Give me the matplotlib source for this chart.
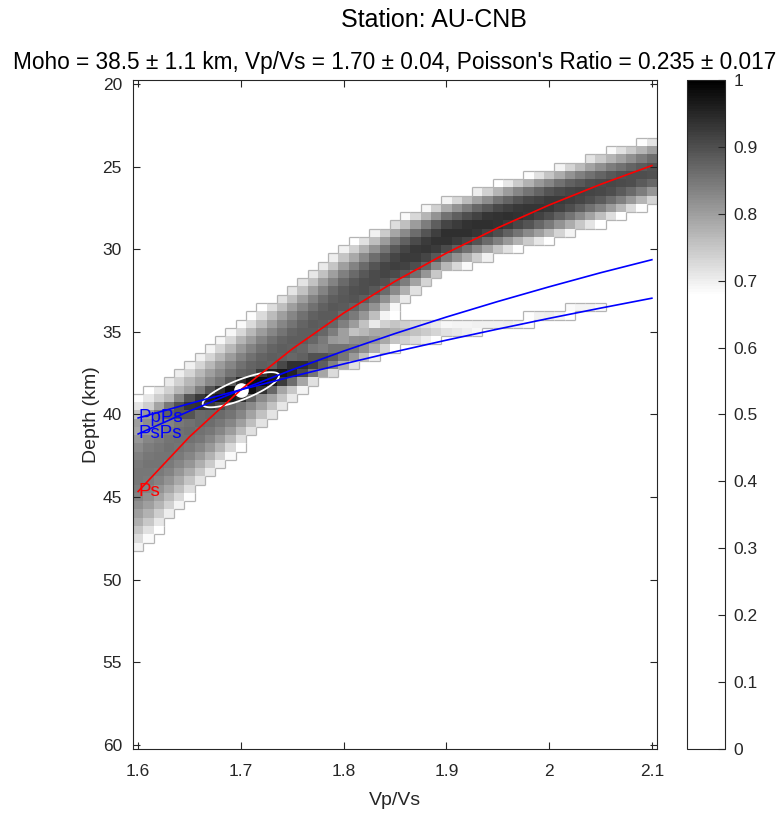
import numpy as np
import matplotlib
matplotlib.use("Agg")
import matplotlib.pyplot as plt
from matplotlib.colors import LinearSegmentedColormap
from matplotlib.collections import LineCollection

plt.rcParams['font.family'] = ['Liberation Sans', 'DejaVu Sans']

station = "AU-CNB"
moho, moho_err = 38.5, 1.1
vpvs, vpvs_err = 1.70, 0.04
poisson, poisson_err = 0.235, 0.017

# H-k search grid
k_grid = np.round(np.arange(1.60, 2.1001, 0.01), 2)
h_grid = np.arange(20.0, 60.01, 0.5)

# ridge description, every 0.05 in Vp/Vs
k_nodes = [1.60, 1.65, 1.70, 1.75, 1.80, 1.85, 1.90, 1.95, 2.00, 2.05, 2.10]
ps_center = [43.6, 40.9, 38.2, 35.7, 33.0, 30.9, 29.2, 28.2, 27.3, 26.3, 25.3]
ps_halfwidth = [4.7, 4.2, 3.8, 3.6, 3.2, 2.7, 2.3, 2.2, 2.2, 2.2, 2.0]
ps_peak = [0.85, 0.86, 0.88, 0.88, 0.89, 0.92, 0.94, 0.94, 0.93, 0.91, 0.90]
mult_center = [40.6, 39.5, 38.5, 37.3, 36.2, 35.0, 34.9, 34.6, 34.0, 33.3, 32.8]
mult_sigma = [1.8, 1.7, 1.5, 1.5, 1.8, 1.9, 1.4, 1.1, 1.1, 1.1, 1.0]
mult_peak = [0.80, 0.93, 1.00, 0.96, 0.86, 0.78, 0.72, 0.70, 0.70, 0.695, 0.62]

# predicted phase curves through the best solution
ps_curve = [44.66, 41.35, 38.50, 36.03, 33.86, 31.94, 30.23, 28.70, 27.32, 26.07, 24.93]
ppps_curve = [40.21, 39.34, 38.50, 37.70, 36.94, 36.20, 35.50, 34.83, 34.18, 33.56, 32.96]
psps_curve = [41.18, 39.79, 38.50, 37.29, 36.16, 35.10, 34.10, 33.16, 32.27, 31.42, 30.63]

# error ellipse half-axes (dVp/Vs, dH)
ell_major = (0.037, -0.905)
ell_minor = (0.0036, 0.56)

x_ticks = [1.6, 1.7, 1.8, 1.9, 2.0, 2.1]
x_ticklabels = ['1.6', '1.7', '1.8', '1.9', '2', '2.1']
y_ticks = [20, 25, 30, 35, 40, 45, 50, 55, 60]
cb_ticks = [0, 0.1, 0.2, 0.3, 0.4, 0.5, 0.6, 0.7, 0.8, 0.9, 1]
cb_ticklabels = ['0', '0.1', '0.2', '0.3', '0.4', '0.5', '0.6', '0.7', '0.8', '0.9', '1']

draw_level = 0.675

K, H = np.meshgrid(k_grid, h_grid)


def ridge(center, width, peak, width_is_half=True):
    c = np.interp(K, k_nodes, center)
    w = np.interp(K, k_nodes, width)
    p = np.interp(K, k_nodes, peak)
    if width_is_half:
        w = w / np.sqrt(2 * np.log(p / draw_level))
    return p * np.exp(-0.5 * ((H - c) / w) ** 2)


stack = np.maximum(ridge(ps_center, ps_halfwidth, ps_peak),
                   ridge(mult_center, mult_sigma, mult_peak, False))
stack = stack / stack.max()
stack = np.ma.masked_less(stack, draw_level)

cmap = LinearSegmentedColormap.from_list(
    'hk', [(0, 'white'), (0.68, 'white'), (1, 'black')], N=256)

fig = plt.figure(figsize=(7.84, 8.14), dpi=100)
ax = fig.add_axes([133 / 784, 1 - 749 / 814, 524 / 784, 669 / 814])
cax = fig.add_axes([687 / 784, 1 - 749 / 814, 38 / 784, 669 / 814])

mesh = ax.pcolormesh(k_grid, h_grid, stack, cmap=cmap, vmin=0, vmax=1,
                     shading='nearest', zorder=1)

# outline of the drawn cells
drawn = ~np.ma.getmaskarray(stack)
dk, dh = 0.01, 0.5
segs = []
for i in range(len(h_grid)):
    for j in range(len(k_grid) - 1):
        if drawn[i, j] != drawn[i, j + 1]:
            x = k_grid[j] + dk / 2
            segs.append([(x, h_grid[i] - dh / 2), (x, h_grid[i] + dh / 2)])
for i in range(len(h_grid) - 1):
    for j in range(len(k_grid)):
        if drawn[i, j] != drawn[i + 1, j]:
            y = h_grid[i] + dh / 2
            segs.append([(k_grid[j] - dk / 2, y), (k_grid[j] + dk / 2, y)])
ax.add_collection(LineCollection(segs, colors='#b4b4b4', linewidths=0.9, zorder=2))

t = np.linspace(0, 2 * np.pi, 80)
ax.plot(vpvs + np.cos(t) * ell_major[0] + np.sin(t) * ell_minor[0],
        moho + np.cos(t) * ell_major[1] + np.sin(t) * ell_minor[1],
        color='white', lw=1.3, zorder=3)
ax.plot(vpvs, moho, 'o', color='white', ms=9.5, zorder=3)

ax.plot(k_nodes, ps_curve, color='#ff0000', lw=1.2, zorder=4)
ax.plot(k_nodes, ppps_curve, color='#0000ff', lw=1.2, zorder=4)
ax.plot(k_nodes, psps_curve, color='#0000ff', lw=1.2, zorder=4)
ax.text(k_nodes[0], ps_curve[0], 'Ps', color='#ff0000', fontsize=13.5,
        ha='left', va='center', zorder=5)
ax.text(k_nodes[0], ppps_curve[0], 'PpPs', color='#0000ff', fontsize=13.5,
        ha='left', va='center', zorder=5)
ax.text(k_nodes[0], psps_curve[0], 'PsPs', color='#0000ff', fontsize=13.5,
        ha='left', va='center', zorder=5)

ax.set_xlim(1.595, 2.105)
ax.set_ylim(60.25, 19.75)
ax.set_xticks(x_ticks)
ax.set_xticklabels(x_ticklabels)
ax.set_yticks(y_ticks)
ax.tick_params(direction='in', top=True, right=True, length=5, width=0.8,
               labelsize=12.5, colors='#262626')
ax.tick_params(axis='x', pad=10.5)
ax.tick_params(axis='y', pad=8)
for s in ax.spines.values():
    s.set_linewidth(0.8)
    s.set_color('#262626')
ax.set_xlabel('Vp/Vs', fontsize=14, color='#262626', labelpad=10)
ax.set_ylabel('Depth (km)', fontsize=14, color='#262626', labelpad=2)

cb = fig.colorbar(mesh, cax=cax, ticks=cb_ticks)
cb.ax.set_yticklabels(cb_ticklabels)
cb.ax.tick_params(direction='in', length=5, width=0.8, labelsize=12.5,
                  colors='#262626', pad=6)
cb.outline.set_linewidth(0.8)
cb.outline.set_edgecolor('#262626')

fig.text(0.553, 1 - 20 / 814, f'Station: {station}', fontsize=18,
         ha='center', va='center')
subtitle = (f"Moho = {moho:.1f} \u00b1 {moho_err:.1f} km, "
            f"Vp/Vs = {vpvs:.2f} \u00b1 {vpvs_err:.2f}, "
            f"Poisson's Ratio = {poisson:.3f} \u00b1 {poisson_err:.3f}")
fig.text(395 / 784, 1 - 62 / 814, subtitle, fontsize=16.3, ha='center', va='center')

fig.savefig('out.png', dpi=100)
